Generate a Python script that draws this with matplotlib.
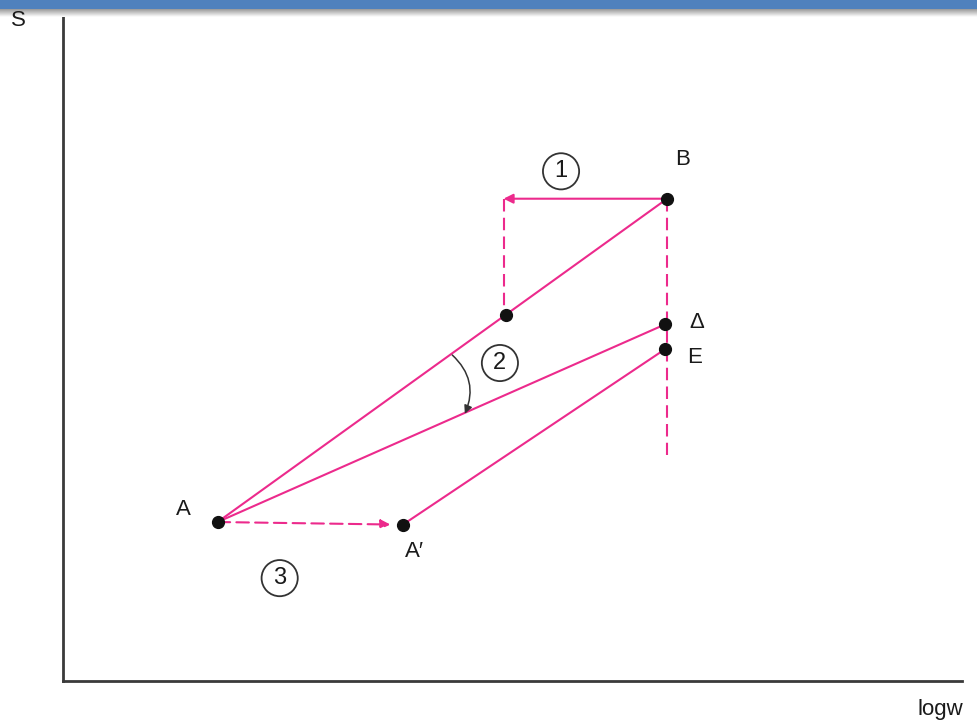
import numpy as np
import matplotlib.pyplot as plt
from matplotlib.patches import FancyArrowPatch, Rectangle

plt.rcParams['font.family'] = ['Liberation Sans', 'DejaVu Sans']

# diagram points in (logw, S) units
point_names = ['A', 'A\u2032', 'B', 'M', '\u0394', 'E']
point_x = [1.72, 3.78, 6.72, 4.93, 6.70, 6.70]
point_y = [2.38, 2.34, 7.22, 5.48, 5.34, 4.97]
pts = dict(zip(point_names, zip(point_x, point_y)))

# step 1 arrow target x, bottom of dashed vertical through B
step1_x = 4.90
vert_bottom_y = 3.38

# rotation arc (step 2) start / end
arc_start = (4.33, 4.88)
arc_end = (4.47, 4.00)

# circled step labels
step_labels = ['1', '2', '3']
step_x = [5.54, 4.86, 2.41]
step_y = [7.63, 4.76, 1.54]

pink = '#EC2A8C'
ink = '#1a1a1a'

fig = plt.figure(figsize=(9.77, 7.25), dpi=100)
ax = fig.add_axes([63 / 977, 44 / 725, 899 / 977, 668 / 725])
ax.set_xlim(0, 10)
ax.set_ylim(0, 10)
for side in ['top', 'right']:
    ax.spines[side].set_visible(False)
for side in ['left', 'bottom']:
    ax.spines[side].set_color('#3a3a3a')
    ax.spines[side].set_linewidth(2.0)
ax.set_xticks([])
ax.set_yticks([])

lw = 1.5
dash = (0, (6, 3))

# solid lines
for p, q in [('A', 'B'), ('A', '\u0394'), ('A\u2032', 'E')]:
    ax.plot([pts[p][0], pts[q][0]], [pts[p][1], pts[q][1]], color=pink, lw=lw, zorder=2)

# dashed verticals
ax.plot([pts['B'][0], pts['B'][0]], [pts['B'][1], vert_bottom_y],
        color=pink, lw=lw, linestyle=dash, zorder=2)
ax.plot([step1_x, step1_x], [pts['B'][1], pts['M'][1]],
        color=pink, lw=lw, linestyle=dash, zorder=2)

# step 1 arrow (B -> left)
ax.add_patch(FancyArrowPatch(pts['B'], (step1_x, pts['B'][1]), arrowstyle='-|>',
                             mutation_scale=14, color=pink, lw=lw, zorder=2,
                             shrinkA=0, shrinkB=0))
# step 3 arrow (A -> A')
ax.add_patch(FancyArrowPatch(pts['A'], pts['A\u2032'], arrowstyle='-|>',
                             mutation_scale=14, color=pink, lw=lw, linestyle=dash,
                             zorder=2, shrinkA=0, shrinkB=9))
# step 2 rotation arc
ax.add_patch(FancyArrowPatch(arc_start, arc_end, arrowstyle='-|>',
                             connectionstyle='arc3,rad=-0.35', mutation_scale=12,
                             color='#333333', lw=1.1, zorder=3, shrinkA=0, shrinkB=0))

# dots
ax.plot(point_x, point_y, 'o', color='#111111', markersize=8.5, zorder=4)

# point labels
lab_kw = dict(fontsize=16, color=ink)
ax.text(pts['A'][0] - 0.38, pts['A'][1] + 0.18, 'A', ha='center', va='center', **lab_kw)
ax.text(pts['A\u2032'][0] + 0.13, pts['A\u2032'][1] - 0.4, 'A\u2032', ha='center', va='center', **lab_kw)
ax.text(pts['B'][0] + 0.17, pts['B'][1] + 0.58, 'B', ha='center', va='center', **lab_kw)
ax.text(pts['\u0394'][0] + 0.35, pts['\u0394'][1] + 0.03, '\u0394', ha='center', va='center', **lab_kw)
ax.text(pts['E'][0] + 0.32, pts['E'][1] - 0.13, 'E', ha='center', va='center', **lab_kw)

# circled step numbers
for s, x, y in zip(step_labels, step_x, step_y):
    ax.text(x, y, s, ha='center', va='center', fontsize=17, color=ink,
            bbox=dict(boxstyle='circle,pad=0.3', fc='white', ec='#333333', lw=1.3))

# axis names
fig.text(18 / 977, 1 - 20 / 725, 'S', ha='center', va='center', fontsize=16, color=ink)
fig.text(940 / 977, 1 - 710 / 725, 'logw', ha='center', va='center', fontsize=16, color=ink)

# top banner with soft shadow
fig.patches.append(Rectangle((0, 1 - 9 / 725), 1, 9 / 725, transform=fig.transFigure,
                             facecolor='#4F81BD', edgecolor='none', zorder=10))
shade = fig.add_axes([0, 1 - 17 / 725, 1, 8 / 725])
grad = np.linspace(0.6, 1.0, 50).reshape(-1, 1)
shade.imshow(grad, cmap='gray', aspect='auto', vmin=0, vmax=1, extent=[0, 1, 0, 1])
shade.set_axis_off()

fig.savefig('out.png', dpi=100, facecolor='white')
